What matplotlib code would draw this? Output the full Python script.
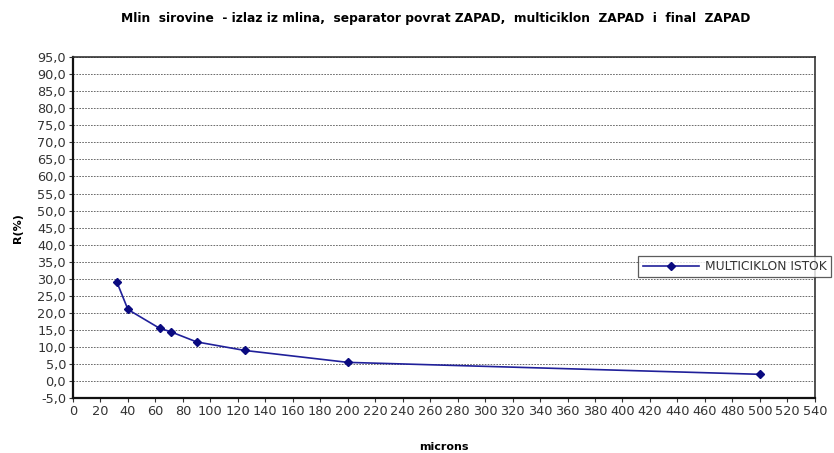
import numpy as np
import matplotlib.pyplot as plt
from matplotlib.ticker import FuncFormatter

plt.rcParams['font.family'] = ['DejaVu Sans']

microns = [32, 40, 63, 71, 90, 125, 200, 500]
r_pct = [29.0, 21.0, 15.5, 14.5, 11.5, 9.0, 5.5, 2.0]
series_name = "MULTICIKLON ISTOK"
title = "Mlin  sirovine  - izlaz iz mlina,  separator povrat ZAPAD,  multiciklon  ZAPAD  i  final  ZAPAD"

fig = plt.figure(figsize=(8.34, 4.53), dpi=100)
ax = fig.add_axes([0.0875, 0.121, 0.8895, 0.753])

ax.plot(microns, r_pct, color='#20209a', lw=1.2, marker='D', ms=4,
        markerfacecolor='#0a0a80', markeredgecolor='#0a0a80', label=series_name)

ax.set_xlim(0, 540)
ax.set_ylim(-5, 95)
ax.set_xticks(np.arange(0, 541, 20))
ax.set_yticks(np.arange(-5, 96, 5))
ax.yaxis.set_major_formatter(FuncFormatter(lambda v, p: f"{v:.1f}".replace('.', ',')))
ax.tick_params(labelsize=9.3, length=3, colors='#333333', pad=2)
ax.yaxis.grid(True, color='#555555', linestyle=(0, (2, 1.5)), lw=0.6)
ax.set_axisbelow(True)

for s in ['left', 'bottom']:
    ax.spines[s].set_linewidth(1.6)
    ax.spines[s].set_color('#111111')
for s in ['top', 'right']:
    ax.spines[s].set_linewidth(1.2)
    ax.spines[s].set_color('#333333')

ax.set_xlabel("microns", fontsize=8, fontweight='bold', labelpad=17)
ax.set_ylabel("R(%)", fontsize=8, fontweight='bold', labelpad=10)
fig.text(0.522, 0.96, title, ha='center', va='center', fontsize=8.8, fontweight='bold')

leg = ax.legend(loc='upper left', bbox_to_anchor=(0.762, 0.418), fontsize=8.8,
                frameon=True, fancybox=False, edgecolor='#333333',
                handlelength=4.6, handletextpad=0.5, borderpad=0.35, borderaxespad=0)
leg.get_frame().set_linewidth(0.9)
for t in leg.get_texts():
    t.set_color('#333333')

fig.savefig("out.png", dpi=100)
